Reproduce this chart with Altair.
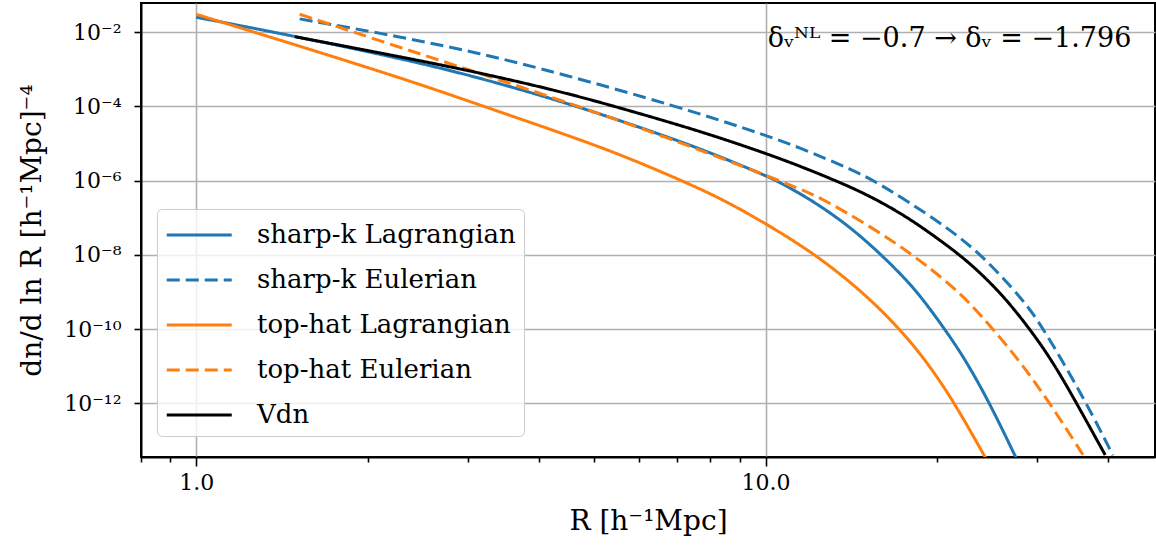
import altair as alt
import pandas as pd

series_names = ["sharp-k Lagrangian", "sharp-k Eulerian", "top-hat Lagrangian", "top-hat Eulerian", "Vdn"]
series_colors = ["#1f77b4", "#1f77b4", "#ff7f0e", "#ff7f0e", "#000000"]
series_dash = [[1, 0], [13, 6], [1, 0], [13, 6], [1, 0]]
series_width = [3, 3, 3, 3, 2]

# sharp-k Lagrangian
skL_R = [1.0, 1.377, 2.28, 3.148, 4.699, 6.516, 7.943, 10.0, 10.45, 11.48, 12.59, 14.13, 15.99,
         17.78, 19.05, 20.66, 22.39, 24.77, 27.54]
skL_n = [2.54e-2, 1.0e-2, 2.0e-3, 6.0e-4, 1.0e-4, 1.8e-5, 6.0e-6, 1.38e-6, 1.0e-6, 4.6e-7, 1.9e-7,
         5.4e-8, 1.0e-8, 1.95e-9, 5.4e-10, 9.8e-11, 1.6e-11, 1.0e-12, 3.4e-14]

# sharp-k Eulerian
skE_R = [1.52, 2.28, 3.15, 4.35, 7.0, 9.38, 11.49, 14.35, 15.45, 17.78, 21.08, 23.97, 28.36, 30.84,
         36.65, 40.74]
skE_n = [2.29e-2, 7.6e-3, 2.72e-3, 7.85e-4, 1.0e-4, 2.35e-5, 7.9e-6, 1.82e-6, 1.02e-6, 2.8e-7,
         4.8e-8, 1.0e-8, 6.2e-10, 1.0e-10, 1.0e-12, 4.0e-14]

# top-hat Lagrangian
thL_R = [1.0, 2.28, 3.2, 4.35, 5.62, 7.26, 8.42, 10.0, 12.29, 14.95, 17.22, 19.21, 21.51, 24.55]
thL_n = [3.05e-2, 6.2e-4, 1.0e-4, 2.0e-5, 4.8e-6, 8.9e-7, 3.1e-7, 7.1e-8, 1.0e-8, 8.9e-10,
         1.0e-10, 1.32e-11, 1.0e-12, 2.7e-14]

# top-hat Eulerian
thE_R = [1.52, 2.28, 3.15, 4.35, 6.52, 10.0, 11.49, 12.46, 15.25, 18.17, 21.08, 22.86, 25.1, 28.18,
         31.6, 36.14]
thE_n = [3.05e-2, 3.9e-3, 7.8e-4, 1.5e-4, 1.75e-5, 1.41e-6, 6.0e-7, 3.55e-7, 6.0e-8, 1.0e-8,
         1.62e-9, 5.0e-10, 1.0e-10, 1.17e-11, 1.0e-12, 4.0e-14]

# Vdn
vdn_R = [1.49, 2.28, 3.15, 4.35, 5.445, 7.67, 10.0, 11.49, 13.4, 14.79, 16.22, 17.78, 19.5, 21.95,
         23.99, 26.3, 29.14, 31.99, 35.2, 39.48]
vdn_n = [7.6e-3, 2.2e-3, 8.1e-4, 2.57e-4, 1.0e-4, 2.19e-5, 5.5e-6, 2.48e-6, 9.5e-7, 4.8e-7, 2.3e-7,
         1.0e-7, 3.8e-8, 1.0e-8, 3.0e-9, 7.1e-10, 1.0e-10, 1.29e-11, 1.0e-12, 4.1e-14]

x_ticks = [0.8, 0.9, 1, 2, 3, 4, 5, 6, 7, 8, 9, 10, 20, 30, 40]
y_ticks = [1e-12, 1e-10, 1e-8, 1e-6, 1e-4, 1e-2]
x_domain = [0.8, 48.3]
y_domain = [3.6e-14, 6.14e-2]

annotation_text = ["δᵥᴺᴸ = −0.7 → δᵥ = −1.796"]
annotation_R = [43.9]
annotation_n = [4.0e-3]

rows = []
for name, Rs, ns in zip(series_names,
                        [skL_R, skE_R, thL_R, thE_R, vdn_R],
                        [skL_n, skE_n, thL_n, thE_n, vdn_n]):
    for i, (r, n) in enumerate(zip(Rs, ns)):
        rows.append({"series": name, "R": r, "n": n, "order": i})
df = pd.DataFrame(rows)

FONT = "DejaVu Serif"

y_label_expr = (
    "round(log(datum.value)/LN10) == -2 ? '10⁻²' : "
    "round(log(datum.value)/LN10) == -4 ? '10⁻⁴' : "
    "round(log(datum.value)/LN10) == -6 ? '10⁻⁶' : "
    "round(log(datum.value)/LN10) == -8 ? '10⁻⁸' : "
    "round(log(datum.value)/LN10) == -10 ? '10⁻¹⁰' : "
    "round(log(datum.value)/LN10) == -12 ? '10⁻¹²' : ''"
)

major_test = "datum.value == 1 || datum.value == 10"

x_enc = alt.X(
    "R:Q",
    scale=alt.Scale(type="log", domain=x_domain, nice=False),
    axis=alt.Axis(
        values=x_ticks,
        labelExpr="datum.value == 1 ? '1.0' : datum.value == 10 ? '10.0' : ''",
        title="R [h⁻¹Mpc]",
        tickSize={"condition": {"test": major_test, "value": 9}, "value": 5},
        gridOpacity={"condition": {"test": major_test, "value": 1}, "value": 0},
        labelPadding=6,
        titlePadding=14,
        labelFlush=False,
    ),
)
y_enc = alt.Y(
    "n:Q",
    scale=alt.Scale(type="log", domain=y_domain, nice=False),
    axis=alt.Axis(
        values=y_ticks,
        labelExpr=y_label_expr,
        title="dn/d ln R [h⁻¹Mpc]⁻⁴",
        tickSize=7,
        labelPadding=13,
        titlePadding=17,
    ),
)

lines = alt.Chart(df).mark_line(clip=True, interpolate="basis").encode(
    x=x_enc,
    y=y_enc,
    order="order:Q",
    color=alt.Color(
        "series:N",
        scale=alt.Scale(domain=series_names, range=series_colors),
        sort=series_names,
        legend=alt.Legend(
            title=None,
            orient="none",
            legendX=16,
            legendY=206,
            symbolType="M-1,0H3",
            symbolSize=1056,
            labelFont=FONT,
            labelFontSize=26,
            labelColor="black",
            labelOffset=56,
            rowPadding=14,
            padding=8,
            strokeColor="#cccccc",
            fillColor="rgba(255,255,255,0.8)",
            cornerRadius=5,
            labelLimit=400,
        ),
    ),
    strokeDash=alt.StrokeDash(
        "series:N",
        scale=alt.Scale(domain=series_names, range=series_dash),
        sort=series_names,
        legend=alt.Legend(title=None),
    ),
    strokeWidth=alt.StrokeWidth(
        "series:N",
        scale=alt.Scale(domain=series_names, range=series_width),
        sort=series_names,
        legend=alt.Legend(title=None),
    ),
)

ann_df = pd.DataFrame({"R": annotation_R, "n": annotation_n, "text": annotation_text})
ann = alt.Chart(ann_df).mark_text(
    align="right", baseline="alphabetic", font=FONT, fontSize=27, color="black"
).encode(x=alt.X("R:Q"), y=alt.Y("n:Q"), text="text:N")

chart = alt.layer(lines, ann).properties(
    width=1014,
    height=454,
    background="white",
    autosize=alt.AutoSizeParams(type="none"),
    padding={"left": 141, "top": 3, "right": 1, "bottom": 92},
).configure_view(
    stroke="black", strokeWidth=2
).configure_axis(
    labelFont=FONT,
    titleFont=FONT,
    labelFontSize=22,
    titleFontSize=28,
    titleFontWeight="normal",
    labelColor="black",
    titleColor="black",
    domainColor="black",
    domainWidth=2,
    tickColor="black",
    tickWidth=1.6,
    gridColor="#b0b0b0",
    gridWidth=1.6,
    grid=True,
)

chart.save("out.html", embed_options={"renderer": "svg", "actions": False})
